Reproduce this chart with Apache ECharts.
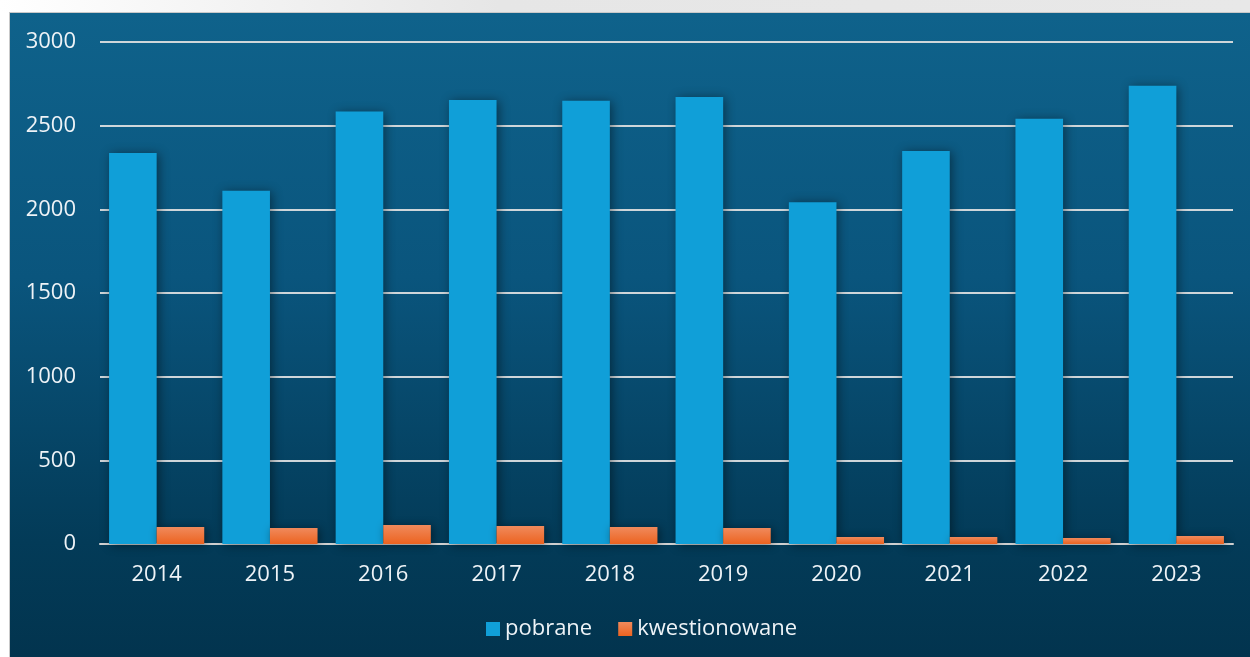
<!DOCTYPE html>
<html>
<head>
<meta charset="utf-8">
<script src="https://cdn.jsdelivr.net/npm/echarts@6/dist/echarts.min.js"></script>
<style>
    html, body { margin: 0; padding: 0; width: 1250px; height: 657px; overflow: hidden; background: #ffffff; }
    #strip { position: absolute; left: 0; top: 0; width: 1250px; height: 13px; background: linear-gradient(to right, #ffffff, #e6e6e6 40%, #e8e8e8); }
    #panel { position: absolute; left: 9px; top: 12px; width: 1250px; height: 660px; border: 1px solid #c9c9c9;
             background: linear-gradient(to bottom, #0f628b 0%, #0a557d 40%, #033b58 80%, #02334d 100%); }
    #chart { position: absolute; left: 0; top: 0; width: 1250px; height: 657px; }
</style>
</head>
<body>
<div id="strip"></div>
<div id="panel"></div>
<div id="chart"></div>
<script>
var years = ["2014", "2015", "2016", "2017", "2018", "2019", "2020", "2021", "2022", "2023"];
var pobrane = [2337, 2111, 2584, 2653, 2649, 2671, 2042, 2349, 2542, 2739];
var kwestionowane = [102, 96, 114, 108, 102, 96, 42, 42, 36, 48];
var seriesNames = ["pobrane", "kwestionowane"];

var FONT = "'Open Sans', 'Noto Sans', sans-serif";
var TEXT_COLOR = "#eef3f7";

var chart = echarts.init(document.getElementById("chart"), null, { renderer: "canvas" });

var barShadow = {
    shadowBlur: 10,
    shadowColor: "rgba(0, 0, 0, 0.45)",
    shadowOffsetX: 2,
    shadowOffsetY: 1
};

var option = {
    backgroundColor: "transparent",
    animation: false,
    grid: {
        left: 100,
        right: 17,
        top: 42,
        bottom: 113
    },
    legend: {
        data: seriesNames,
        left: 481,
        top: 613,
        icon: "rect",
        itemWidth: 14,
        itemHeight: 14,
        itemGap: 26,
        textStyle: {
            color: TEXT_COLOR,
            fontSize: 22,
            fontFamily: FONT
        }
    },
    xAxis: {
        type: "category",
        data: years,
        axisTick: { show: false },
        axisLine: { show: true, lineStyle: { color: "#d3d3d3", width: 2 } },
        axisLabel: {
            color: TEXT_COLOR,
            fontSize: 22,
            fontFamily: FONT,
            margin: 20
        }
    },
    yAxis: {
        type: "value",
        min: 0,
        max: 3000,
        interval: 500,
        axisLine: { show: false },
        axisTick: { show: false },
        axisLabel: {
            color: TEXT_COLOR,
            fontSize: 22,
            fontFamily: FONT,
            margin: 24,
            formatter: function (v) { return String(v); }
        },
        splitLine: { lineStyle: { color: "#cfd6da", width: 2 } }
    },
    series: [
        {
            name: seriesNames[0],
            type: "bar",
            data: pobrane,
            barGap: "0%",
            barCategoryGap: "16%",
            itemStyle: Object.assign({ color: "#109fd8" }, barShadow)
        },
        {
            name: seriesNames[1],
            type: "bar",
            data: kwestionowane,
            barGap: "0%",
            barCategoryGap: "16%",
            itemStyle: Object.assign({
                color: new echarts.graphic.LinearGradient(0, 0, 0, 1, [
                    { offset: 0, color: "#f08a5c" },
                    { offset: 1, color: "#ec6320" }
                ])
            }, barShadow)
        }
    ]
};

chart.setOption(option);
</script>
</body>
</html>
